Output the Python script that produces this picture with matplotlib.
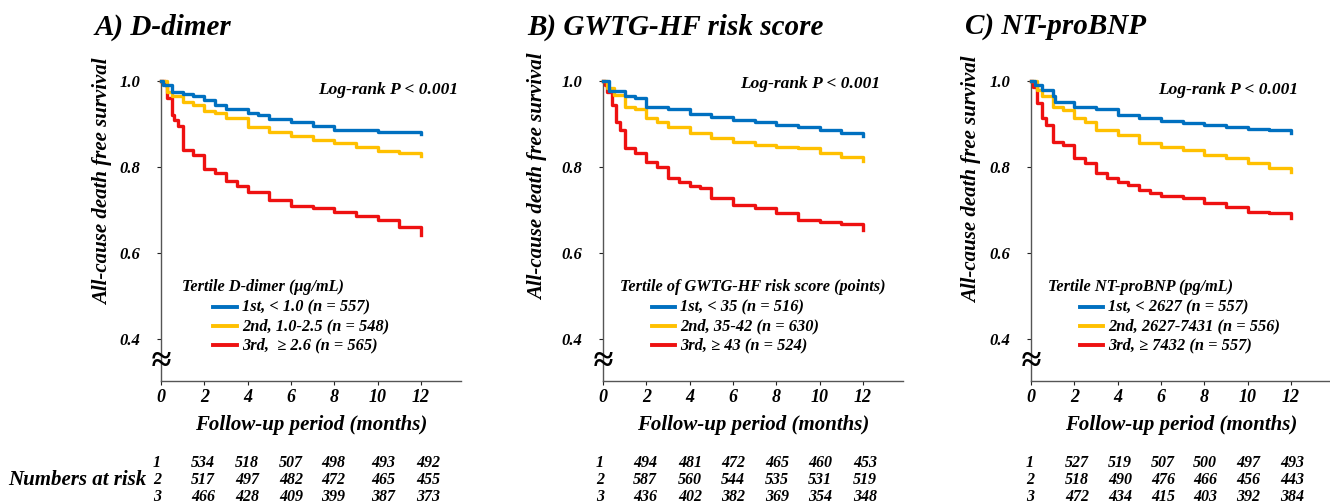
import numpy as np
from matplotlib import pyplot as plt
from matplotlib.lines import Line2D

plt.rcParams['font.family'] = ['Liberation Serif', 'DejaVu Serif']
plt.rcParams['font.weight'] = 'bold'
plt.rcParams['font.style'] = 'italic'

# ---- data ----
# A) D-dimer
dd_t1 = [0, 0.1, 0.5, 1.0, 1.5, 2.0, 2.5, 3.0, 4.0, 4.5, 5.0, 6.0, 7.0, 8.0, 10.0, 12.0]
dd_s1 = [1.0, 0.99, 0.975, 0.97, 0.965, 0.955, 0.945, 0.935, 0.925, 0.92, 0.912, 0.905, 0.895, 0.886, 0.882, 0.877]
dd_t2 = [0, 0.3, 0.5, 1.0, 1.5, 2.0, 2.5, 3.0, 4.0, 5.0, 6.0, 7.0, 8.0, 9.0, 10.0, 11.0, 12.0]
dd_s2 = [1.0, 0.975, 0.964, 0.952, 0.945, 0.931, 0.925, 0.913, 0.894, 0.882, 0.871, 0.863, 0.855, 0.847, 0.836, 0.832, 0.825]
dd_t3 = [0, 0.2, 0.3, 0.5, 0.6, 0.8, 1.0, 1.5, 2.0, 2.5, 3.0, 3.5, 4.0, 5.0, 6.0, 7.0, 8.0, 9.0, 10.0, 11.0, 12.0]
dd_s3 = [1.0, 0.99, 0.96, 0.92, 0.91, 0.895, 0.84, 0.828, 0.795, 0.785, 0.768, 0.755, 0.742, 0.723, 0.709, 0.705, 0.696, 0.685, 0.677, 0.66, 0.642]

# B) GWTG-HF risk score
gw_t1 = [0, 0.3, 1.0, 1.5, 2.0, 3.0, 4.0, 5.0, 6.0, 7.0, 8.0, 9.0, 10.0, 11.0, 12.0]
gw_s1 = [1.0, 0.976, 0.964, 0.961, 0.94, 0.934, 0.923, 0.916, 0.909, 0.905, 0.898, 0.894, 0.886, 0.878, 0.873]
gw_t2 = [0, 0.2, 0.5, 1.0, 1.5, 2.0, 2.5, 3.0, 4.0, 5.0, 6.0, 7.0, 8.0, 9.0, 10.0, 11.0, 12.0]
gw_s2 = [1.0, 0.983, 0.968, 0.94, 0.934, 0.913, 0.905, 0.894, 0.878, 0.867, 0.858, 0.852, 0.847, 0.844, 0.832, 0.824, 0.814]
gw_t3 = [0, 0.1, 0.2, 0.4, 0.6, 0.8, 1.0, 1.5, 2.0, 2.5, 3.0, 3.5, 4.0, 4.5, 5.0, 6.0, 7.0, 8.0, 9.0, 10.0, 11.0, 12.0]
gw_s3 = [1.0, 0.99, 0.975, 0.944, 0.905, 0.886, 0.843, 0.833, 0.812, 0.8, 0.774, 0.765, 0.756, 0.75, 0.727, 0.712, 0.704, 0.692, 0.677, 0.672, 0.667, 0.653]

# C) NT-proBNP
cn_t1 = [0, 0.2, 0.5, 1.0, 1.1, 2.0, 3.0, 4.0, 5.0, 6.0, 7.0, 8.0, 9.0, 10.0, 11.0, 12.0]
cn_s1 = [1.0, 0.99, 0.978, 0.965, 0.952, 0.94, 0.934, 0.921, 0.913, 0.908, 0.902, 0.898, 0.894, 0.888, 0.886, 0.878]
cn_t2 = [0, 0.3, 0.5, 1.0, 1.5, 2.0, 2.5, 3.0, 4.0, 5.0, 6.0, 7.0, 8.0, 9.0, 10.0, 11.0, 12.0]
cn_s2 = [1.0, 0.98, 0.965, 0.94, 0.932, 0.913, 0.905, 0.886, 0.875, 0.855, 0.847, 0.84, 0.828, 0.822, 0.809, 0.798, 0.789]
cn_t3 = [0, 0.1, 0.3, 0.5, 0.7, 1.0, 1.5, 2.0, 2.5, 3.0, 3.5, 4.0, 4.5, 5.0, 5.5, 6.0, 7.0, 8.0, 9.0, 10.0, 11.0, 12.0]
cn_s3 = [1.0, 0.985, 0.948, 0.914, 0.898, 0.859, 0.851, 0.82, 0.81, 0.785, 0.775, 0.766, 0.758, 0.747, 0.74, 0.733, 0.728, 0.716, 0.708, 0.696, 0.692, 0.681]

titles = ['A) D-dimer', 'B) GWTG-HF risk score', 'C) NT-proBNP']
leg_titles = ['Tertile D-dimer (\u03bcg/mL)', 'Tertile of GWTG-HF risk score (points)', 'Tertile NT-proBNP (pg/mL)']
leg_labels = [
    ['1st, < 1.0 (n = 557)', '2nd, 1.0-2.5 (n = 548)', '3rd,  \u2265 2.6 (n = 565)'],
    ['1st, < 35 (n = 516)', '2nd, 35-42 (n = 630)', '3rd, \u2265 43 (n = 524)'],
    ['1st, < 2627 (n = 557)', '2nd, 2627-7431 (n = 556)', '3rd, \u2265 7432 (n = 557)'],
]
risk_dd = [[534, 518, 507, 498, 493, 492], [517, 497, 482, 472, 465, 455], [466, 428, 409, 399, 387, 373]]
risk_gw = [[494, 481, 472, 465, 460, 453], [587, 560, 544, 535, 531, 519], [436, 402, 382, 369, 354, 348]]
risk_cn = [[527, 519, 507, 500, 497, 493], [518, 490, 476, 466, 456, 443], [472, 434, 415, 403, 392, 384]]

curves = [
    [(dd_t1, dd_s1), (dd_t2, dd_s2), (dd_t3, dd_s3)],
    [(gw_t1, gw_s1), (gw_t2, gw_s2), (gw_t3, gw_s3)],
    [(cn_t1, cn_s1), (cn_t2, cn_s2), (cn_t3, cn_s3)],
]
risks = [risk_dd, risk_gw, risk_cn]
colors = ['#0070C0', '#FFC000', '#EE1111']

# ---- layout (pixels of the 1330x504 picture) ----
W, H = 1330, 504
ax_left = [161, 603, 1031]
ax_top, ax_bot = 81, 381
ax_w = 300
title_x = [95, 527, 965]
ylab_x = [103, 538, 972]
ylab_y = [182, 177, 180]
lr_x = [458, 880, 1298]
lr_y = [90, 84, 90]
leg_x = [182, 620, 1048]
line_x = [(213, 237), (652, 675), (1080, 1103)]
text_x = [242, 680, 1108]
leg_y = [287, 307, 326, 345]
row_x = [157, 600, 1030]
col_x = [[203, 247, 291, 333, 383, 428],
         [645, 690, 733, 777, 820, 865],
         [1077, 1120, 1163, 1205, 1248, 1292]]
row_y = [463, 480, 497]


def fx(px):
    return px / W


def fy(py):
    return 1 - py / H


fig = plt.figure(figsize=(13.3, 5.04), dpi=100)

for k in range(3):
    ax = fig.add_axes([fx(ax_left[k]), fy(ax_bot), fx(ax_w), (ax_bot - ax_top) / H])
    for i, (t, s) in enumerate(curves[k]):
        ax.step(t, s, where='post', color=colors[i], lw=2.4, clip_on=False, zorder=3 - i * 0.1)
    ax.set_xlim(0, 13.85)
    ax.set_ylim(0.302, 1.0)
    ax.set_xticks([0, 2, 4, 6, 8, 10, 12])
    ax.set_yticks([0.4, 0.6, 0.8, 1.0])
    ax.set_yticklabels(['0.4', '0.6', '0.8', '1.0'])
    ax.spines['top'].set_visible(False)
    ax.spines['right'].set_visible(False)
    for sp in ['left', 'bottom']:
        ax.spines[sp].set_color('#555555')
        ax.spines[sp].set_linewidth(1.0)
    ax.tick_params(axis='y', length=3, pad=12, labelsize=12, colors='#222222', labelcolor='black')
    ax.tick_params(axis='x', length=3, pad=3, labelsize=13, colors='#222222', labelcolor='black')
    ax.set_xlabel('Follow-up period (months)', fontsize=15, fontweight='bold', labelpad=6)
    ax.text(0, 0.344, '\u2248', transform=ax.transData, fontsize=26, ha='center', va='center',
            clip_on=False, zorder=5)

    fig.text(fx(title_x[k]), fy(27), titles[k], fontsize=21, ha='left', va='center')
    fig.text(fx(ylab_x[k]), fy(ylab_y[k]), 'All-cause death free survival', fontsize=15,
             rotation=90, ha='center', va='center')
    fig.text(fx(lr_x[k]), fy(lr_y[k]), 'Log-rank P < 0.001', fontsize=12.5, ha='right', va='center')

    fig.text(fx(leg_x[k]), fy(leg_y[0]), leg_titles[k], fontsize=11.7, ha='left', va='center')
    for i in range(3):
        fig.add_artist(Line2D([fx(line_x[k][0]), fx(line_x[k][1])], [fy(leg_y[i + 1])] * 2,
                              color=colors[i], lw=2.8, transform=fig.transFigure))
        fig.text(fx(text_x[k]), fy(leg_y[i + 1]), leg_labels[k][i], fontsize=11.8,
                 ha='left', va='center')

    for r in range(3):
        fig.text(fx(row_x[k]), fy(row_y[r]), str(r + 1), fontsize=11.5, ha='center', va='center')
        for c in range(6):
            fig.text(fx(col_x[k][c]), fy(row_y[r]), str(risks[k][r][c]), fontsize=11.5,
                     ha='center', va='center')

fig.text(fx(8), fy(480), 'Numbers at risk', fontsize=15, ha='left', va='center')

fig.savefig('out.png', dpi=100)
